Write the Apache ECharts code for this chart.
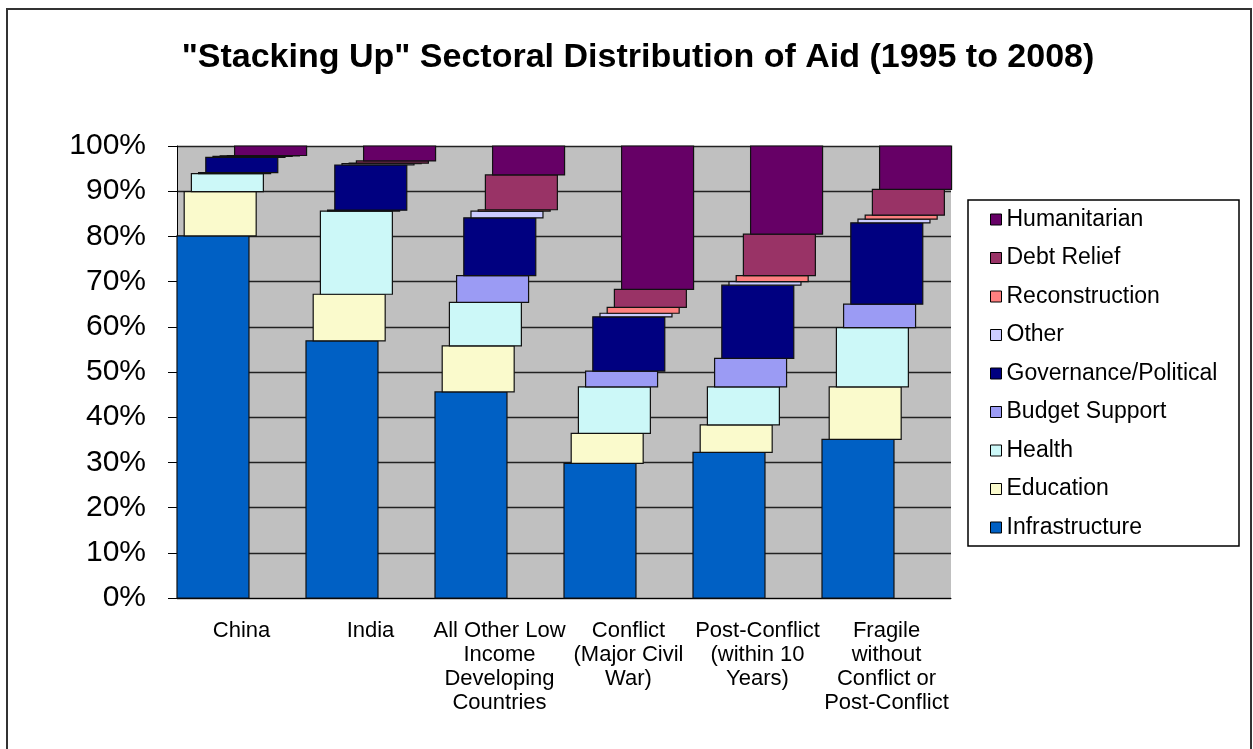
<!DOCTYPE html>
<html>
<head>
<meta charset="utf-8">
<title>Stacking Up</title>
<script src="https://cdn.jsdelivr.net/npm/echarts@6/dist/echarts.min.js"></script>
<style>
  html, body { margin: 0; padding: 0; background: #fff; }
  #main { width: 1253px; height: 749px; }
</style>
</head>
<body>
<div id="main"></div>
<script>
  // categories and shares (percent of aid)
  var categories = ['China', 'India', 'All Other Low\nIncome\nDeveloping\nCountries', 'Conflict\n(Major Civil\nWar)', 'Post-Conflict\n(within 10\nYears)', 'Fragile\nwithout\nConflict or\nPost-Conflict'];
  var infrastructure = [80.1, 56.9, 45.6, 29.8, 32.2, 35.1];
  var education = [9.8, 10.3, 10.2, 6.6, 6.1, 11.6];
  var health = [4.0, 18.4, 9.6, 10.3, 8.4, 13.1];
  var budgetSupport = [0.2, 0.2, 5.9, 3.5, 6.3, 5.2];
  var governance = [3.4, 10.0, 12.8, 12.0, 16.2, 18.0];
  var other = [0.2, 0.3, 1.5, 0.8, 0.8, 0.8];
  var reconstruction = [0.1, 0.1, 0.3, 1.3, 1.3, 0.9];
  var debtRelief = [0.1, 0.5, 7.7, 4.0, 9.2, 5.7];
  var humanitarian = [2.1, 3.3, 6.4, 31.7, 19.5, 9.6];
  var yTicks = [0, 10, 20, 30, 40, 50, 60, 70, 80, 90, 100];

  // bottom to top
  var sectors = [
    { name: 'Infrastructure', values: infrastructure, color: '#0060c4' },
    { name: 'Education', values: education, color: '#fafacc' },
    { name: 'Health', values: health, color: '#ccf8f8' },
    { name: 'Budget Support', values: budgetSupport, color: '#9b9bf4' },
    { name: 'Governance/Political', values: governance, color: '#000080' },
    { name: 'Other', values: other, color: '#ccccff' },
    { name: 'Reconstruction', values: reconstruction, color: '#ff8080' },
    { name: 'Debt Relief', values: debtRelief, color: '#993366' },
    { name: 'Humanitarian', values: humanitarian, color: '#660066' }
  ];

  var FONT = "'Liberation Sans', Arial, sans-serif";

  // each layer sits a little further right, like a staircase
  function makeRender(idx, color) {
    return function (params, api) {
      var cat = api.value(0);
      var lo = api.coord([cat, api.value(1)]);
      var hi = api.coord([cat, api.value(2)]);
      var band = api.size([1, 0])[0];
      var left = lo[0] - band / 2 + idx * band * 0.0558;
      return {
        type: 'rect',
        shape: { x: left, y: hi[1], width: band * 0.558, height: lo[1] - hi[1] },
        style: { fill: color, stroke: '#111', lineWidth: 1.2 }
      };
    };
  }

  var base = categories.map(function () { return 0; });
  var series = sectors.map(function (s, idx) {
    var data = s.values.map(function (v, i) {
      var item = [i, base[i], base[i] + v];
      base[i] += v;
      return item;
    });
    return {
      name: s.name,
      type: 'custom',
      renderItem: makeRender(idx, s.color),
      itemStyle: { color: s.color },
      encode: { x: 0, y: [1, 2] },
      data: data,
      z: 2 + idx
    };
  });

  var legendData = sectors.slice().reverse().map(function (s) { return { name: s.name, icon: 'rect' }; });

  var myChart = echarts.init(document.getElementById('main'));
  var option = {
    backgroundColor: '#fff',
    animation: false,
    title: {
      text: '"Stacking Up" Sectoral Distribution of Aid (1995 to 2008)',
      left: 633,
      textAlign: 'center',
      top: 36,
      textStyle: { fontFamily: FONT, fontSize: 34, fontWeight: 'bold', color: '#000' }
    },
    graphic: [
      { type: 'rect', shape: { x: 7, y: 9, width: 1244, height: 800 }, style: { fill: 'none', stroke: '#333', lineWidth: 2 }, silent: true },
      { type: 'rect', shape: { x: 968, y: 200, width: 271, height: 346 }, style: { fill: '#fff', stroke: '#000', lineWidth: 1.5 }, silent: true, z: 0 }
    ],
    legend: {
      orient: 'vertical',
      left: 985,
      top: 203,
      itemWidth: 11,
      itemHeight: 11,
      itemGap: 15.5,
      data: legendData,
      itemStyle: { borderColor: '#000', borderWidth: 1 },
      textStyle: { fontFamily: FONT, fontSize: 23, color: '#000' },
      z: 5
    },
    grid: {
      left: 177,
      right: 302,
      top: 146,
      bottom: 151,
      show: true,
      backgroundColor: '#c0c0c0',
      borderWidth: 0
    },
    xAxis: {
      type: 'category',
      data: categories,
      axisLine: { lineStyle: { color: '#000', width: 1 } },
      axisTick: { length: 8, lineStyle: { color: '#000' } },
      axisLabel: { fontFamily: FONT, fontSize: 22, lineHeight: 24, color: '#000', margin: 21, interval: 0 }
    },
    yAxis: {
      type: 'value',
      min: yTicks[0],
      max: yTicks[yTicks.length - 1],
      interval: 10,
      axisLine: { show: true, lineStyle: { color: '#000', width: 1 } },
      axisTick: { show: true, length: 9, lineStyle: { color: '#000' } },
      splitLine: { lineStyle: { color: '#222', width: 1.3 } },
      axisLabel: { fontFamily: FONT, fontSize: 30, color: '#000', margin: 31, formatter: '{value}%' }
    },
    series: series
  };
  myChart.setOption(option);
</script>
</body>
</html>
